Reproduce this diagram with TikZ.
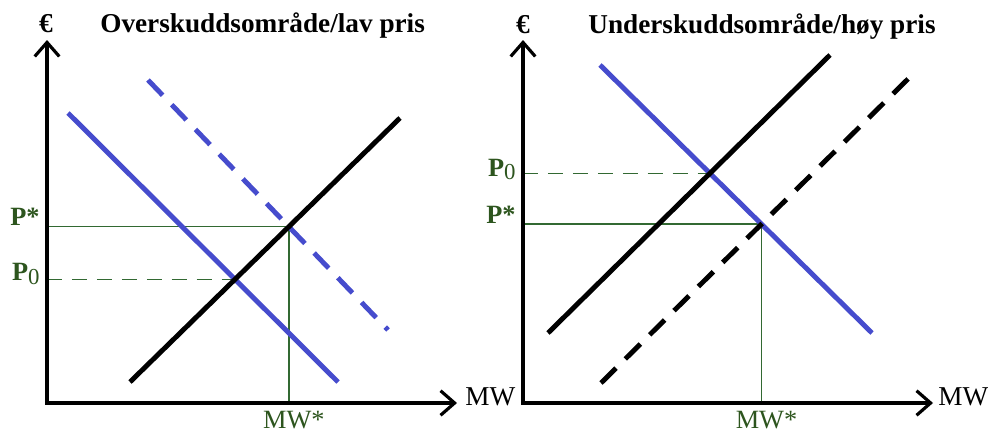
\documentclass[tikz,border=0pt]{standalone}
\usepackage{fontspec}
\setmainfont{Liberation Serif}
\usetikzlibrary{arrows.meta,calc}

\definecolor{dblue}{RGB}{70,76,205}
\definecolor{gline}{RGB}{50,105,50}
\definecolor{glabel}{RGB}{45,85,30}

\newcommand{\pzero}{P\raisebox{-0.3ex}{\mdseries\fontsize{13}{13}\selectfont 0}}

\begin{document}
\begin{tikzpicture}[x=0.02cm,y=-0.02cm,
  axis/.style={line width=2.3pt,line join=miter,
    {Straight Barb[length=8pt,width=14pt,line width=1.8pt]}-{Straight Barb[length=8pt,width=14pt,line width=1.8pt]}},
  curve/.style={line width=2.8pt},
  dcurve/.style={curve,dash pattern=on 12pt off 7.5pt},
  guide/.style={gline,line width=0.8pt},
  dguide/.style={guide,dash pattern=on 8.5pt off 5.7pt},
  title/.style={font=\fontsize{15.5}{18}\selectfont\bfseries,anchor=base west,inner sep=0pt},
  plab/.style={text=glabel,font=\fontsize{15}{18}\selectfont\bfseries,anchor=base east,inner sep=0pt},
  qlab/.style={text=glabel,font=\fontsize{15}{18}\selectfont,anchor=base,inner sep=0pt},
  axlab/.style={font=\fontsize{15.5}{18}\selectfont,anchor=base west,inner sep=0pt}]
  \useasboundingbox (0,0) rectangle (988,436);

  % left panel: surplus area
  \coordinate (oL) at (47,403);
  \coordinate (yL) at (47,40);
  \coordinate (xL) at (457,403);
  \coordinate (d1a) at (68,113);  \coordinate (d1b) at (338,382);
  \coordinate (d2a) at (148,80);  \coordinate (d2b) at (388,330);
  \coordinate (s1a) at (130,382); \coordinate (s1b) at (400,118);
  \coordinate (p0L) at (intersection of d1a--d1b and s1a--s1b);
  \coordinate (psL) at (intersection of d2a--d2b and s1a--s1b);

  \draw[dguide] (oL |- p0L) -- (p0L);
  \draw[guide] (oL |- psL) -- (psL) -- (psL |- oL);
  \draw[curve,dblue] (d1a) -- (d1b);
  \draw[dcurve,dblue] (d2a) -- (d2b);
  \draw[curve] (s1a) -- (s1b);
  \draw[axis] (yL) -- (oL) -- (xL);

  \node[title,anchor=base] (eL) at (46,32) {€};
  \node[title] (tL) at (100,32) {Overskuddsområde/lav pris};
  \node[axlab] (mwL) at (465,405) {MW};
  \node[plab] (psLabL) at ($(oL |- psL)+(-7,-1)$) {P*};
  \node[plab] (p0LabL) at ($(oL |- p0L)+(-7,1)$) {\pzero};
  \node[qlab] (mwsL) at ($(psL |- oL)+(5,25)$) {MW*};

  % right panel: deficit area
  \coordinate (oR) at (523,403);
  \coordinate (yR) at (523,40);
  \coordinate (xR) at (933,403);
  \coordinate (d3a) at (600,65);  \coordinate (d3b) at (872,333);
  \coordinate (s2a) at (548,333); \coordinate (s2b) at (830,55);
  \coordinate (s3a) at (601,383); \coordinate (s3b) at (909,78);
  \coordinate (p0R) at (intersection of d3a--d3b and s2a--s2b);
  \coordinate (psR) at (intersection of d3a--d3b and s3a--s3b);

  \draw[dguide] (oR |- p0R) -- (p0R);
  \draw[guide] (oR |- psR) -- (psR) -- (psR |- oR);
  \draw[curve,dblue] (d3a) -- (d3b);
  \draw[curve] (s2a) -- (s2b);
  \draw[dcurve] (s3a) -- (s3b);
  \draw[axis] (yR) -- (oR) -- (xR);

  \node[title,anchor=base] (eR) at (523,33) {€};
  \node[title] (tR) at (588,33) {Underskuddsområde/høy pris};
  \node[axlab] (mwR) at (938,405) {MW};
  \node[plab] (psLabR) at ($(oR |- psR)+(-7,-1)$) {P*};
  \node[plab] (p0LabR) at ($(oR |- p0R)+(-7,3)$) {\pzero};
  \node[qlab] (mwsR) at ($(psR |- oR)+(5,25)$) {MW*};
\end{tikzpicture}
\end{document}
